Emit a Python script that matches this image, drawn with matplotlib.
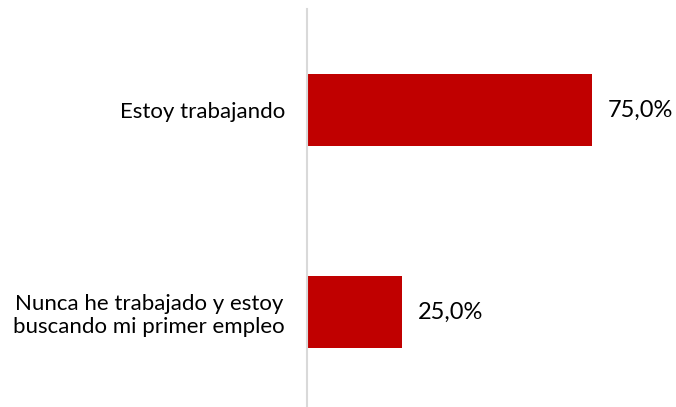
import matplotlib
matplotlib.use('Agg')
import matplotlib.pyplot as plt

# datos
categorias = ['Estoy trabajando', 'Nunca he trabajado y estoy\nbuscando mi primer empleo']
valores = [75.0, 25.0]
etiquetas = ['75,0%', '25,0%']

plt.rcParams['font.family'] = ['Lato', 'DejaVu Sans']

fig = plt.figure(figsize=(6.76, 4.07), dpi=100)
ax = fig.add_axes([307 / 676, -0.0147, 380 / 676, 0.9926])

y = list(range(len(categorias)))
ax.barh(y, valores, height=0.356, color='#C00000')

# etiquetas de valor
for yi, v, t in zip(y, valores, etiquetas):
    ax.text(v + 4.2, yi, t, va='center', ha='left', fontsize=17, color='#000000')

ax.set_xlim(0, 100)
ax.set_ylim(1.5, -0.5)
ax.set_yticks(y)
ax.set_yticklabels(categorias, fontsize=16, color='#000000', linespacing=1.2,
                   multialignment='center')
ax.tick_params(axis='y', length=0, pad=16)
ax.set_xticks([])

for s in ['top', 'right', 'bottom']:
    ax.spines[s].set_visible(False)
ax.spines['left'].set_color('#D9D9D9')
ax.spines['left'].set_linewidth(1.5)

fig.savefig('out.png', dpi=100)
